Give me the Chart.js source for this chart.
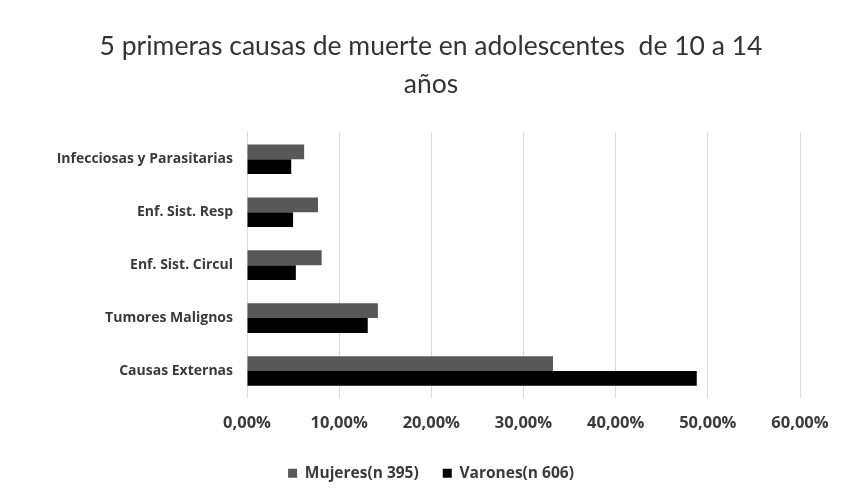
<!DOCTYPE html>
<html>
<head>
<meta charset="utf-8">
<script src="https://cdn.jsdelivr.net/npm/chart.js@4.4.0/dist/chart.umd.min.js"></script>
<style>
  html, body { margin: 0; padding: 0; background: #fff; }
  #wrap { width: 853px; height: 495px; }
</style>
</head>
<body>
<div id="wrap"><canvas id="causasGraph" width="853" height="495"></canvas></div>
<script>
// Causas de muerte, adolescentes 10-14 años (% por sexo)
const causas = ['Infecciosas y Parasitarias', 'Enf. Sist. Resp', 'Enf. Sist. Circul', 'Tumores Malignos', 'Causas Externas'];
const mujeres = [6.2, 7.7, 8.1, 14.2, 33.2];
const varones = [4.8, 5.0, 5.3, 13.1, 48.8];
const ticksPct = [0, 10, 20, 30, 40, 50, 60];

const labelFont = '"Open Sans", sans-serif';
const textColor = '#3a3a3a';

const ctx = document.getElementById('causasGraph').getContext('2d');

const causasGraph = new Chart(ctx, {
    type: 'bar',
    data: {
        labels: causas,
        datasets: [
            {
                label: 'Mujeres(n 395)',
                data: mujeres,
                backgroundColor: '#585858'
            },
            {
                label: 'Varones(n 606)',
                data: varones,
                backgroundColor: '#000000'
            }
        ]
    },
    options: {
        indexAxis: 'y',
        responsive: false,
        animation: false,
        layout: { padding: { left: 10, right: 1, top: 28, bottom: 4 } },
        datasets: {
            bar: { categoryPercentage: 0.56, barPercentage: 1.0 }
        },
        plugins: {
            title: {
                display: true,
                text: ['5 primeras causas de muerte en adolescentes  de 10 a 14', 'años'],
                color: '#333333',
                font: { family: 'Lato, sans-serif', size: 26.5, weight: 'normal', lineHeight: 1.43 },
                padding: { top: 0, bottom: 29 }
            },
            legend: {
                position: 'bottom',
                labels: {
                    color: textColor,
                    font: { family: labelFont, size: 15.5, weight: 'bold' },
                    boxWidth: 9,
                    boxHeight: 9,
                    padding: 24
                }
            },
            tooltip: { enabled: false }
        },
        scales: {
            x: {
                min: 0,
                max: 60,
                afterBuildTicks: (axis) => { axis.ticks = ticksPct.map(v => ({ value: v })); },
                ticks: {
                    color: textColor,
                    font: { family: labelFont, size: 16.5, weight: 'bold' },
                    padding: 16,
                    maxRotation: 0,
                    callback: (v) => v.toFixed(2).replace('.', ',') + '%'
                },
                grid: { color: '#d9d9d9', drawTicks: false },
                border: { display: false },
                afterFit: (axis) => { axis.height = 44; }
            },
            y: {
                ticks: {
                    color: textColor,
                    font: { family: labelFont, size: 14, weight: 'bold' },
                    padding: 14
                },
                grid: { display: false, drawTicks: false },
                border: { display: true, color: '#d9d9d9' },
                afterFit: (axis) => { axis.width = 237; }
            },
            // empty right-hand margin so the plot ends at 60%
            yRight: {
                type: 'category',
                position: 'right',
                grid: { display: false, drawTicks: false },
                border: { display: false },
                ticks: { display: false },
                afterFit: (axis) => { axis.width = 52; }
            }
        }
    }
});
</script>
</body>
</html>
